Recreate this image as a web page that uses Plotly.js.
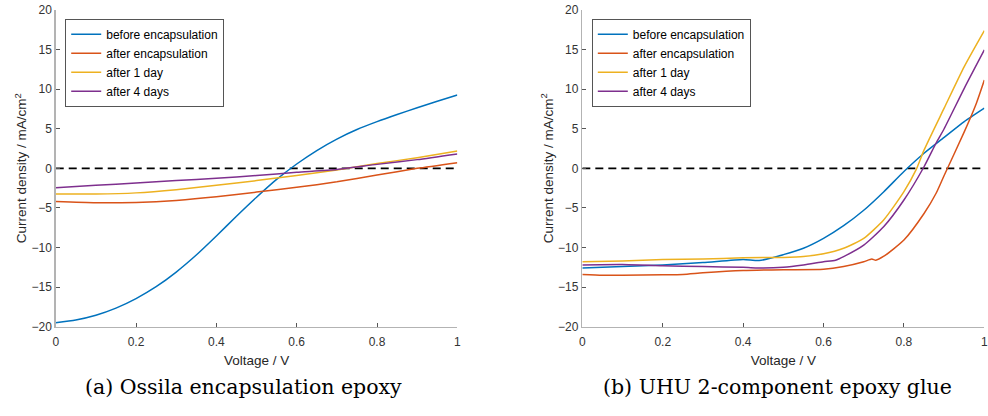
<!DOCTYPE html>
<html>
<head>
<meta charset="utf-8">
<script src="https://cdn.plot.ly/plotly-3.0.1.min.js"></script>
<style>html,body{margin:0;padding:0;background:#fff;}#chart{width:988px;height:416px;}</style>
</head>
<body>
<div id="chart"></div>
<script>
// ---- Data ----
const seriesNames = ["before encapsulation", "after encapsulation", "after 1 day", "after 4 days"];
const seriesColors = ["#0072BD", "#D95319", "#EDB120", "#7E2F8E"];

// (a) Ossila encapsulation epoxy
const aBeforeV = [0, 0.05, 0.1, 0.15, 0.2, 0.25, 0.3, 0.35, 0.4, 0.45, 0.5, 0.55, 0.6, 0.65, 0.7, 0.75, 0.8, 0.85, 0.9, 0.95, 1.0];
const aBeforeJ = [-19.5, -19.15, -18.55, -17.65, -16.45, -14.95, -13.1, -10.95, -8.55, -6.05, -3.65, -1.4, 0.55, 2.25, 3.7, 4.9, 5.9, 6.8, 7.65, 8.47, 9.27];
const aAfterV = [0, 0.1, 0.2, 0.3, 0.4, 0.5, 0.6, 0.7, 0.8, 0.9, 1.0];
const aAfterJ = [-4.2, -4.35, -4.3, -4.05, -3.6, -3.0, -2.4, -1.7, -0.85, 0.0, 0.72];
const a1DayV = [0, 0.1, 0.2, 0.3, 0.4, 0.5, 0.6, 0.7, 0.8, 0.9, 1.0];
const a1DayJ = [-3.25, -3.25, -3.1, -2.7, -2.15, -1.55, -0.9, -0.2, 0.6, 1.35, 2.2];
const a4DaysV = [0, 0.1, 0.2, 0.3, 0.4, 0.5, 0.6, 0.7, 0.8, 0.9, 1.0];
const a4DaysJ = [-2.45, -2.15, -1.85, -1.55, -1.25, -0.9, -0.5, -0.15, 0.5, 1.1, 1.82];

// (b) UHU 2-component epoxy glue
const bBeforeV = [0, 0.1, 0.2, 0.3, 0.4, 0.44, 0.5, 0.55, 0.6, 0.65, 0.7, 0.75, 0.8, 0.85, 0.9, 0.95, 1.0];
const bBeforeJ = [-12.6, -12.4, -12.2, -11.9, -11.5, -11.65, -10.9, -10.1, -8.85, -7.25, -5.3, -2.95, -0.4, 1.9, 3.9, 5.9, 7.6];
const bAfterV = [0, 0.05, 0.1, 0.2, 0.25, 0.3, 0.4, 0.5, 0.6, 0.65, 0.7, 0.72, 0.73, 0.75, 0.8, 0.85, 0.88, 0.9, 0.95, 0.98, 1.0];
const bAfterJ = [-13.4, -13.5, -13.5, -13.45, -13.4, -13.2, -12.9, -12.8, -12.75, -12.4, -11.8, -11.45, -11.6, -11.1, -9.05, -5.7, -3.15, -0.9, 4.6, 8.2, 11.15];
const b1DayV = [0, 0.1, 0.2, 0.3, 0.4, 0.5, 0.55, 0.6, 0.65, 0.7, 0.75, 0.8, 0.83, 0.85, 0.9, 0.95, 1.0];
const b1DayJ = [-11.8, -11.7, -11.5, -11.45, -11.3, -11.25, -11.15, -10.8, -10.1, -8.85, -6.5, -2.95, -0.2, 2.3, 7.6, 12.85, 17.4];
const b4DaysV = [0, 0.1, 0.2, 0.3, 0.4, 0.45, 0.5, 0.55, 0.6, 0.63, 0.65, 0.7, 0.75, 0.8, 0.85, 0.88, 0.9, 0.95, 1.0];
const b4DaysJ = [-12.2, -12.15, -12.3, -12.4, -12.5, -12.6, -12.5, -12.2, -11.8, -11.6, -11.15, -9.7, -7.35, -4.0, 0.2, 3.2, 5.0, 10.1, 14.95];

const refV = [0, 1];
const refJ = [0, 0];

const xTickVals = [0, 0.2, 0.4, 0.6, 0.8, 1];
const xTickText = ["0", "0.2", "0.4", "0.6", "0.8", "1"];
const yTickVals = [-20, -15, -10, -5, 0, 5, 10, 15, 20];

const xTitle = "Voltage / V";
const yTitle = "Current density / mA/cm<sup>2</sup>";
const captions = ["(a) Ossila encapsulation epoxy", "(b) UHU 2-component epoxy glue"];

// ---- Traces ----
const panelData = [
  [[aBeforeV, aBeforeJ], [aAfterV, aAfterJ], [a1DayV, a1DayJ], [a4DaysV, a4DaysJ]],
  [[bBeforeV, bBeforeJ], [bAfterV, bAfterJ], [b1DayV, b1DayJ], [b4DaysV, b4DaysJ]]
];
const traces = [];
panelData.forEach((panel, p) => {
  const xa = p === 0 ? "x" : "x2";
  const ya = p === 0 ? "y" : "y2";
  traces.push({x: refV, y: refJ, xaxis: xa, yaxis: ya, mode: "lines", showlegend: false,
    line: {color: "#000", width: 1.8, dash: "8px,5px"}, hoverinfo: "skip"});
  panel.forEach((s, i) => {
    traces.push({x: s[0], y: s[1], xaxis: xa, yaxis: ya, mode: "lines", name: seriesNames[i],
      legendgroup: "g" + i, showlegend: true, legend: p === 0 ? "legend" : "legend2",
      line: {color: seriesColors[i], width: 1.5, shape: "spline", smoothing: 0.6}});
  });
});

const fam = "Liberation Sans, Arial, sans-serif";
const tickFont = {family: fam, size: 12, color: "#333"};
const titleFont = {family: fam, size: 13.5, color: "#262626"};
function xAxis(domain, anchor) {
  return {domain: domain, anchor: anchor, range: [0, 1], tickvals: xTickVals, ticktext: xTickText,
    ticks: "inside", ticklen: 4, tickcolor: "#555", tickwidth: 1, showline: true, linecolor: "#b3b3b3", linewidth: 1.5,
    showgrid: false, zeroline: false, tickfont: tickFont, ticklabelstandoff: 3, ticklabeloverflow: "allow",
    title: {text: xTitle, font: titleFont, standoff: 8}};
}
function yAxis(anchor) {
  return {domain: [0.2147, 0.976], anchor: anchor, range: [-20, 20], tickvals: yTickVals,
    ticks: "inside", ticklen: 4, tickcolor: "#555", tickwidth: 1, showline: true, linecolor: "#b3b3b3", linewidth: 1.5,
    showgrid: false, zeroline: false, tickfont: tickFont, ticklabeloverflow: "allow",
    title: {text: yTitle, font: titleFont, standoff: 1}};
}
const legendStyle = (xpos) => ({x: xpos, y: 0.955, xanchor: "left", yanchor: "top", bgcolor: "#fff",
  bordercolor: "#555", borderwidth: 1, font: {family: fam, size: 12, color: "#000"},
  tracegroupgap: 0, itemwidth: 30});

const capFont = {family: "DejaVu Serif, serif", size: 20.5, color: "#000"};
const layout = {
  width: 988, height: 416, paper_bgcolor: "#fff", plot_bgcolor: "#fff",
  margin: {l: 0, r: 0, t: 0, b: 0},
  showlegend: true,
  xaxis: xAxis([0.0564, 0.4629], "y"),
  yaxis: yAxis("x"),
  xaxis2: xAxis([0.5894, 0.9963], "y2"),
  yaxis2: yAxis("x2"),
  legend: legendStyle(0.066),
  legend2: legendStyle(0.599),
  annotations: [
    {text: captions[0], xref: "paper", yref: "paper", x: 243 / 988, y: 1 - 387 / 416, xanchor: "center", yanchor: "middle",
      showarrow: false, font: capFont},
    {text: captions[1], xref: "paper", yref: "paper", x: 777 / 988, y: 1 - 387 / 416, xanchor: "center", yanchor: "middle",
      showarrow: false, font: capFont}
  ]
};
Plotly.newPlot("chart", traces, layout, {staticPlot: true, displayModeBar: false});
</script>
</body>
</html>
